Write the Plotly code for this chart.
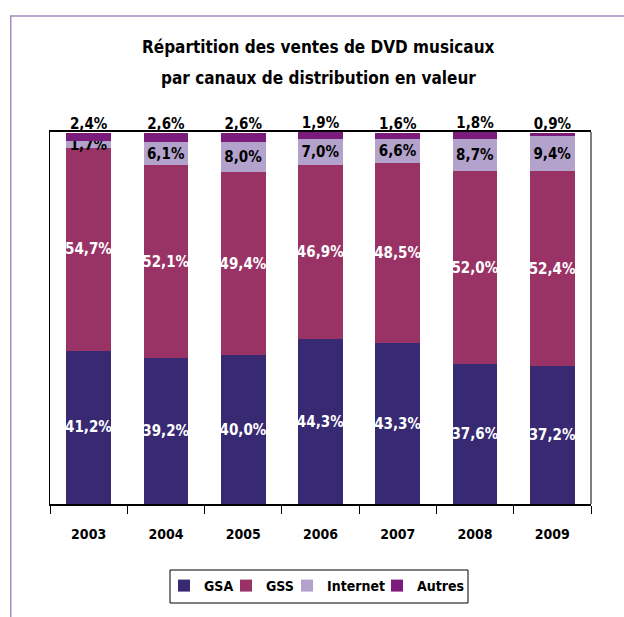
import plotly.graph_objects as go

years = ["2003", "2004", "2005", "2006", "2007", "2008", "2009"]
gsa = [41.2, 39.2, 40.0, 44.3, 43.3, 37.6, 37.2]
gss = [54.7, 52.1, 49.4, 46.9, 48.5, 52.0, 52.4]
internet = [1.7, 6.1, 8.0, 7.0, 6.6, 8.7, 9.4]
autres = [2.4, 2.6, 2.6, 1.9, 1.6, 1.8, 0.9]

FONT = "DejaVu Sans Condensed, Liberation Sans Narrow, Arial Narrow, sans-serif"

def fmt(v):
    return [f"{x:.1f}%".replace(".", ",") for x in v]

series = [
    ("GSA", gsa, "#372a73", "white", "legend"),
    ("GSS", gss, "#993366", "white", "legend2"),
    ("Internet", internet, "#b3a2cb", "black", "legend3"),
    ("Autres", autres, "#7b1c7c", "black", "legend4"),
]

fig = go.Figure()
for name, vals, col, tcol, leg in series:
    is_top = name == "Autres"
    fig.add_trace(go.Bar(
        x=years, y=vals, name=name, legend=leg,
        marker=dict(color=col, line=dict(width=0)),
        text=None if is_top else fmt(vals),
        textposition="none" if is_top else "inside",
        textangle=0, insidetextanchor="middle",
        textfont=dict(family=FONT, size=15, color=tcol, weight="bold"),
        cliponaxis=False, hoverinfo="skip",
    ))

# Autres labels above the stacks
totals = [a + b + c + d for a, b, c, d in zip(gsa, gss, internet, autres)]
fig.add_trace(go.Scatter(
    x=years, y=totals, mode="text", text=fmt(autres), textposition="top center",
    textfont=dict(family=FONT, size=15, color="black", weight="bold"),
    showlegend=False, cliponaxis=False, hoverinfo="skip",
))

leg_common = dict(orientation="h", xanchor="left", yanchor="middle", y=-0.2204,
                  borderwidth=0, bgcolor="rgba(0,0,0,0)",
                  font=dict(family=FONT, size=14, color="black", weight="bold"),
                  itemwidth=30)
def px2paper(px):
    return (px - 50) / 541.0

fig.update_layout(
    barmode="stack", bargap=0.42,
    width=624, height=617,
    margin=dict(l=50, r=33, t=132, b=113),
    paper_bgcolor="white", plot_bgcolor="white",
    font=dict(family=FONT, size=15, color="black"),
    uniformtext=dict(minsize=15, mode="show"),
    showlegend=True,
    legend=dict(x=px2paper(164), **leg_common),
    legend2=dict(x=px2paper(226), **leg_common),
    legend3=dict(x=px2paper(287), **leg_common),
    legend4=dict(x=px2paper(377), **leg_common),
    xaxis=dict(showline=True, linecolor="black", linewidth=1.5, mirror=True,
               ticks="outside", tickson="boundaries", ticklen=8, tickcolor="black",
               tickfont=dict(family=FONT, size=14, color="black", weight="bold"),
               ticklabelstandoff=16, showgrid=False, fixedrange=True),
    yaxis=dict(range=[0, 100.15], showline=True, linecolor="black", linewidth=1,
               showticklabels=False, ticks="", showgrid=False, zeroline=False),
    annotations=[
        dict(text="<b>Répartition des ventes de DVD musicaux</b>", x=0.497, y=1.2285,
             xref="paper", yref="paper", showarrow=False, xanchor="center", yanchor="middle",
             font=dict(family=FONT, size=17, color="black")),
        dict(text="<b>par canaux de distribution en valeur</b>", x=0.497, y=1.145,
             xref="paper", yref="paper", showarrow=False, xanchor="center", yanchor="middle",
             font=dict(family=FONT, size=17, color="black")),
    ],
    shapes=[
        dict(type="line", xref="paper", yref="paper", x0=1, x1=1, y0=0, y1=1,
             line=dict(color="#808080", width=2)),
        dict(type="rect", xref="paper", yref="paper", x0=-0.0726, x1=1.3, y0=1.312, y1=-0.5,
             line=dict(color="#a48cbc", width=1.5), layer="below"),
        dict(type="rect", xref="paper", yref="paper", x0=px2paper(170), x1=px2paper(468),
             y0=(504 - 570) / 372.0, y1=(504 - 603) / 372.0,
             line=dict(color="black", width=1), layer="below"),
    ],
)

fig.write_html("out.html", config={"displayModeBar": False},
               post_script="document.body.style.margin='0px';")
